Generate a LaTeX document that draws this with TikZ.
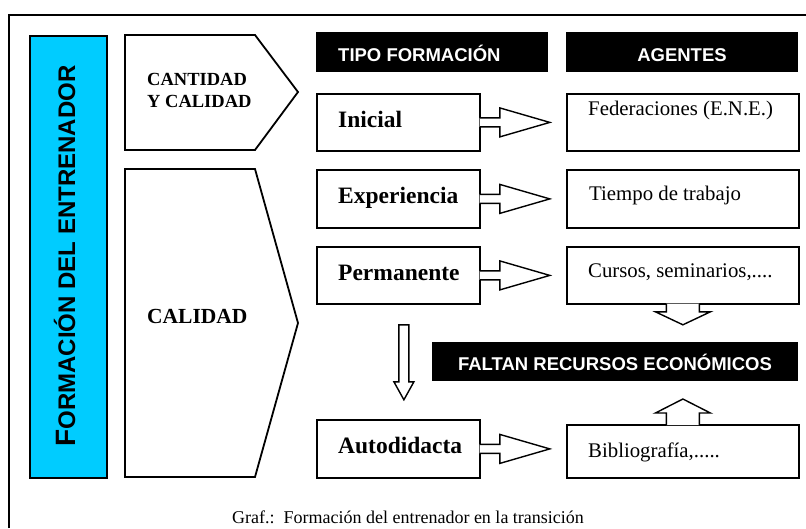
\documentclass[tikz,border=0pt]{standalone}
\usepackage{fontspec}
\setmainfont{Liberation Serif}
\newfontfamily\arialf{Liberation Sans}
\usetikzlibrary{calc}
\definecolor{skyb}{RGB}{0,204,255}
\newcommand\blockR[1]{%
  \fill[white] ($(#1.east)+(-1.2,-4.5)$) -- ($(#1.east)+(19,-4.5)$) -- ($(#1.east)+(19,-14.5)$) -- ($(#1.east)+(69,0)$) -- ($(#1.east)+(19,14.5)$) -- ($(#1.east)+(19,4.5)$) -- ($(#1.east)+(-1.2,4.5)$) -- cycle;
  \draw[arr] ($(#1.east)+(-0.9,-4.5)$) -- ($(#1.east)+(19,-4.5)$) -- ($(#1.east)+(19,-14.5)$) -- ($(#1.east)+(69,0)$) -- ($(#1.east)+(19,14.5)$) -- ($(#1.east)+(19,4.5)$) -- ($(#1.east)+(-0.9,4.5)$);}
\begin{document}
\begin{tikzpicture}[x=1pt,y=-1pt,
  box/.style={draw, line width=1.8pt, fill=white, inner sep=0pt, anchor=north west},
  blk/.style={fill=black, inner sep=0pt, anchor=north west},
  lbl/.style={inner sep=0pt, anchor=base west, font=\fontsize{23.5}{25}\selectfont\bfseries},
  ag/.style={inner sep=0pt, anchor=base west, font=\fontsize{20.8}{22}\selectfont},
  hd/.style={inner sep=0pt, anchor=base, text=white, font=\arialf\bfseries\fontsize{18.5}{20}\selectfont},
  arr/.style={line width=1.4pt, line join=miter}]
\useasboundingbox (0,0) rectangle (806,528);
\draw[line width=1.6pt] (9,528) -- (9,15) -- (806,15);

% side bar
\node[box, fill=skyb, minimum width=77pt, minimum height=442pt] (side) at (29,35) {};
\node[rotate=90, anchor=base, inner sep=0pt, font=\arialf\bfseries] (vt) at (75,256)
  {{\fontsize{28}{30}\selectfont F}{\fontsize{24}{26}\selectfont ORMACIÓN DEL ENTRENADOR}};

% pentagons
\draw[line width=1.8pt, line join=miter, fill=white] (125,35) -- (255,35) -- (298,92) -- (255,150) -- (125,150) -- cycle;
\draw[line width=1.8pt, line join=miter, fill=white] (125,169) -- (255,169) -- (298,323) -- (255,477) -- (125,477) -- cycle;
\node[inner sep=0pt, anchor=base west, font=\bfseries\fontsize{18.5}{20}\selectfont] (cc1) at (147,85) {CANTIDAD};
\node[inner sep=0pt, anchor=base west, font=\bfseries\fontsize{18.5}{20}\selectfont] (cc2) at (147,107) {Y CALIDAD};
\node[inner sep=0pt, anchor=base west, font=\bfseries\fontsize{21.5}{23}\selectfont] (cal) at (147,323) {CALIDAD};

% headings
\node[blk, minimum width=232pt, minimum height=40pt] (tipo) at (316,32) {};
\node[hd, anchor=base west] (tipot) at (338,61) {TIPO FORMACIÓN};
\node[blk, minimum width=232pt, minimum height=40pt] (agen) at (566,32) {};
\node[hd] (agent) at (682,61) {AGENTES};

% type boxes
\node[box, minimum width=163pt, minimum height=57pt] (ini) at (316,93) {};
\node[box, minimum width=163pt, minimum height=58pt] (exp) at (316,169) {};
\node[box, minimum width=163pt, minimum height=57pt] (per) at (316,246) {};
\node[box, minimum width=163pt, minimum height=58pt] (aut) at (316,419) {};
\node[lbl] (init) at (338,127) {Inicial};
\node[lbl] (expt) at (338,203.5) {Experiencia};
\node[lbl] (pert) at (338,280) {Permanente};
\node[lbl] (autt) at (338,453.5) {Autodidacta};

% agent boxes
\node[box, minimum width=232pt, minimum height=57pt] (fed) at (566,93) {};
\node[box, minimum width=232pt, minimum height=58pt] (tie) at (566,169) {};
\node[box, minimum width=232pt, minimum height=57pt] (cur) at (566,246) {};
\node[box, minimum width=232pt, minimum height=53pt] (bib) at (566,424) {};
\node[ag] (fedt) at (588,115) {Federaciones (E.N.E.)};
\node[ag] (tiet) at (589,200) {Tiempo de trabajo};
\node[ag] (curt) at (588,277) {Cursos, seminarios,....};
\node[ag] (bibt) at (588,457) {Bibliografía,.....};

% faltan
\node[blk, minimum width=366pt, minimum height=39pt] (fal) at (432,342) {};
\node[hd] (falt) at (615,370) {FALTAN RECURSOS ECONÓMICOS};

% horizontal block arrows
\blockR{ini}
\blockR{exp}
\blockR{per}
\blockR{aut}

% down arrow from cursos
\fill[white] ($(cur.south)+(-16.5,-1.2)$) -- ($(cur.south)+(-16.5,7)$) -- ($(cur.south)+(-27.5,7)$) -- ($(cur.south)+(0,20)$) -- ($(cur.south)+(27.5,7)$) -- ($(cur.south)+(16.5,7)$) -- ($(cur.south)+(16.5,-1.2)$) -- cycle;
\draw[arr] ($(cur.south)+(-16.5,-0.9)$) -- ($(cur.south)+(-16.5,7)$) -- ($(cur.south)+(-27.5,7)$) -- ($(cur.south)+(0,20)$) -- ($(cur.south)+(27.5,7)$) -- ($(cur.south)+(16.5,7)$) -- ($(cur.south)+(16.5,-0.9)$);

% up arrow from bibliografia
\fill[white] ($(bib.north)+(-16.5,1.2)$) -- ($(bib.north)+(-16.5,-11)$) -- ($(bib.north)+(-27.5,-11)$) -- ($(bib.north)+(0,-25)$) -- ($(bib.north)+(27.5,-11)$) -- ($(bib.north)+(16.5,-11)$) -- ($(bib.north)+(16.5,1.2)$) -- cycle;
\draw[arr] ($(bib.north)+(-16.5,0.9)$) -- ($(bib.north)+(-16.5,-11)$) -- ($(bib.north)+(-27.5,-11)$) -- ($(bib.north)+(0,-25)$) -- ($(bib.north)+(27.5,-11)$) -- ($(bib.north)+(16.5,-11)$) -- ($(bib.north)+(16.5,0.9)$);

% middle down arrow
\draw[arr, fill=white] ($(per.south)+(0.5,20)$) -- ($(per.south)+(10.5,20)$) -- ($(per.south)+(10.5,77)$) -- ($(per.south)+(15.5,77)$) -- ($(per.south)+(5.5,95)$) -- ($(per.south)+(-4.5,77)$) -- ($(per.south)+(0.5,77)$) -- cycle;

% caption
\node[inner sep=0pt, anchor=base, font=\fontsize{18}{20}\selectfont] (cap) at (408,523) {Graf.:\ \ Formación del entrenador en la transición};
\end{tikzpicture}
\end{document}
